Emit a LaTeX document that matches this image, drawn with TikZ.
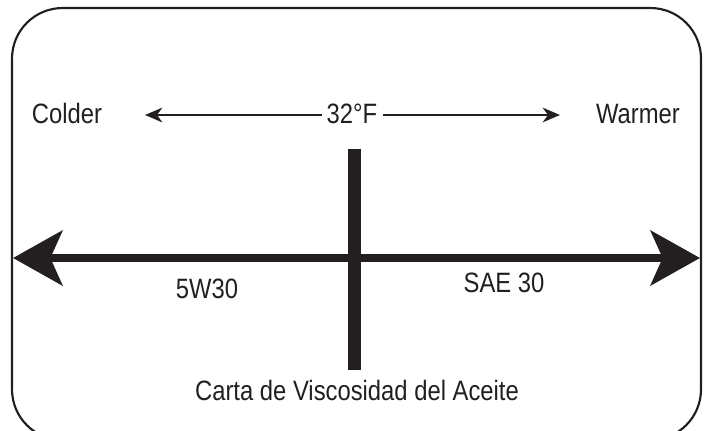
\documentclass[tikz,border=0pt]{standalone}
\usepackage{fontspec}
\setmainfont{Liberation Sans}[FakeStretch=0.85]
\usetikzlibrary{arrows.meta}
\definecolor{ink}{RGB}{35,31,32}
\begin{document}
\begin{tikzpicture}[
x=0.75pt, y=-0.75pt,
every node/.style={font=\fontsize{21}{25}\selectfont, text=ink, inner sep=0pt, anchor=base},
bigtip/.style={{Stealth[length=37pt,width=41pt,inset=9pt]}-{Stealth[length=37pt,width=41pt,inset=9pt]}},
smalltip/.style={-{Stealth[length=13pt,width=11pt,inset=4pt]}}
]
\useasboundingbox (0,0) rectangle (709,430);
\draw[ink, line width=1.6pt, rounded corners=38pt] (12,8) rectangle (701,440);
% temperature scale
\node (colder) at (67,123) {Colder};
\node (warmer) at (638,123) {Warmer};
\node (temp) at (352,123) {32°F};
\coordinate (coldend) at (145,115);
\coordinate (warmend) at (560,115);
\coordinate (templ) at (322,115);
\coordinate (tempr) at (383,115);
\draw[ink, line width=1.5pt, smalltip] (templ) -- (coldend);
\draw[ink, line width=1.5pt, smalltip] (tempr) -- (warmend);
% oil range
\coordinate (oill) at (13,258);
\coordinate (oilr) at (700,258);
\draw[ink, line width=6pt, bigtip] (oill) -- (oilr);
\fill[ink] (348,149) rectangle (361,370);
\node (thin) at (207,298) {5W30};
\node (thick) at (504,292) {SAE 30};
\node (title) at (357,400) {Carta de Viscosidad del Aceite};
\end{tikzpicture}
\end{document}
